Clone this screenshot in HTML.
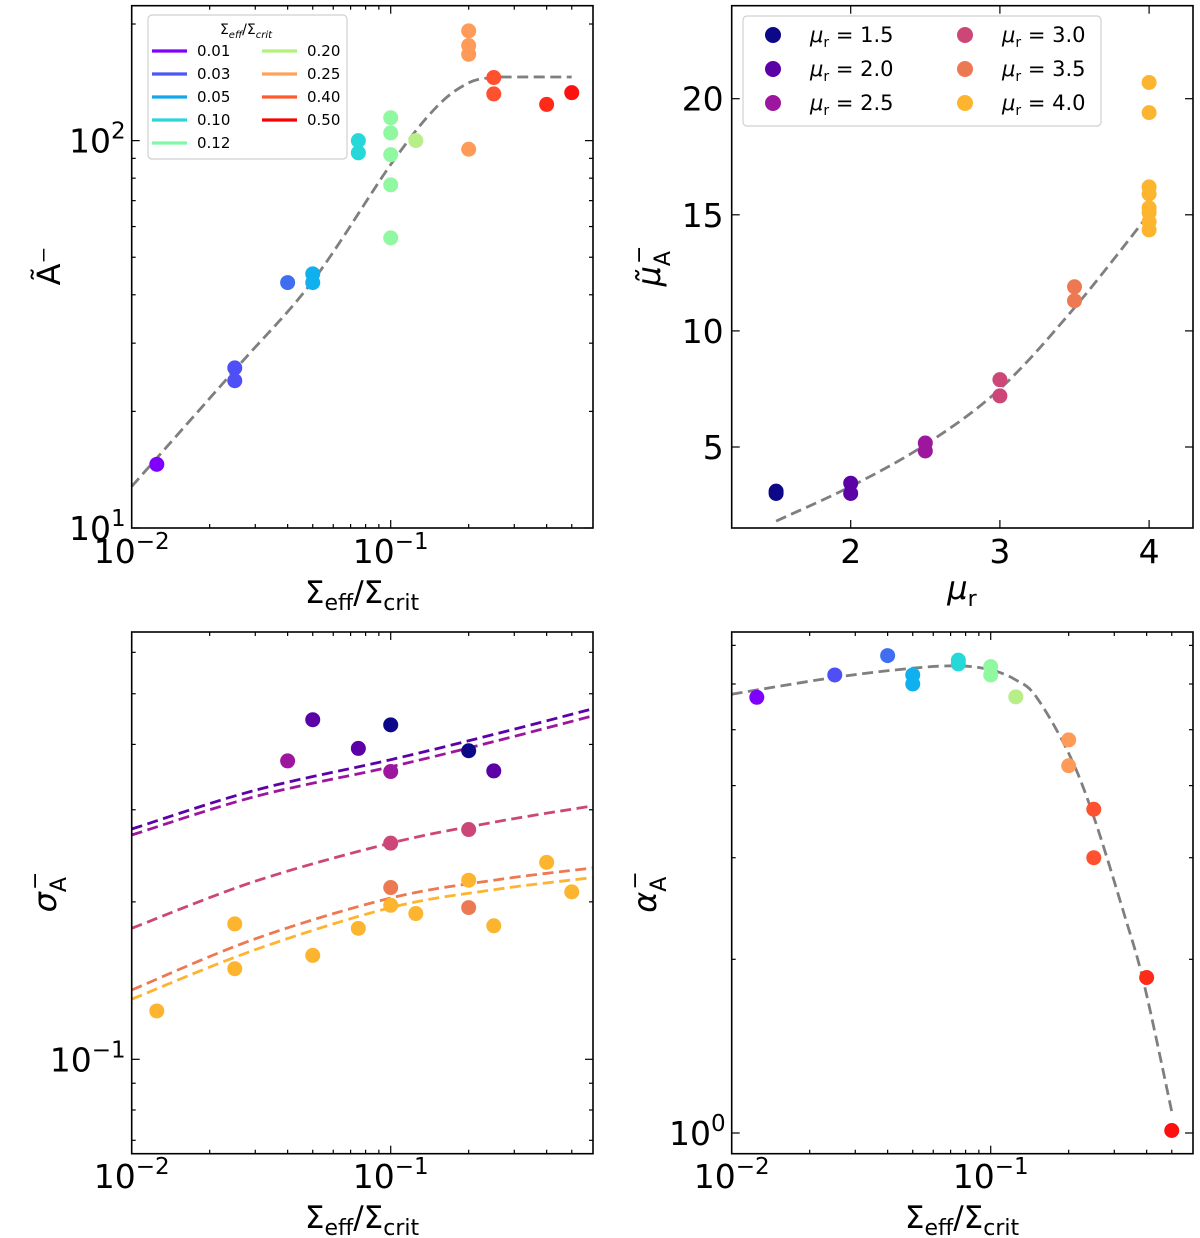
<!DOCTYPE html>
<html><head><meta charset="utf-8">
<style>
html,body{margin:0;padding:0;background:#fff;}
svg{display:block;font-family:"DejaVu Sans","Liberation Sans",sans-serif;}
</style></head>
<body>
<svg id="fig" width="1200" height="1238" viewBox="0 0 1200 1238" xmlns="http://www.w3.org/2000/svg"></svg>
<script>
// ---------- Panel A (top-left): A~ vs Sigma ----------
const aX = [0.0125,0.025,0.025,0.04,0.05,0.05,0.075,0.075,0.1,0.1,0.1,0.1,0.1,0.125,0.2,0.2,0.2,0.2,0.25,0.25,0.4,0.5];
const aY = [14.6,25.9,24.0,43,45.3,43,100,93,114.6,104.7,92,76.9,56.1,100,192,176,167,95,145.5,132,124,133];
const aC = ['#8000ff','#4f4ff8','#4f4ff8','#3f6ff0','#10b0ee','#10b0ee','#26d8d8','#26d8d8','#90f8a0','#90f8a0','#90f8a0','#90f8a0','#90f8a0','#b8ee88','#ff9a58','#ff9a58','#ff9a58','#ff9a58','#ff5030','#ff5030','#ff2a18','#ff1010'];
const aFitX = [0.01,0.025,0.05,0.1,0.15,0.2,0.25,0.3,0.5];
const aFitY = [12.8,25.6,43.4,86.7,122,141,145.5,146,146];
// ---------- Panel B (top-right): mu~ vs mu_r ----------
const bX = [1.5,1.5,2,2,2.5,2.5,3,3,3.5,3.5,4,4,4,4,4,4,4,4];
const bY = [3.1,3.0,3.44,3.0,5.17,4.83,7.9,7.2,11.9,11.3,20.7,19.4,16.2,15.9,15.3,15.1,14.7,14.35];
const bFitX = [1.5,2,2.5,3,3.5,4];
const bFitY = [1.81,3.3,5.1,7.5,11.0,15.04];
const muCats = [1.5,2.0,2.5,3.0,3.5,4.0];
const muCols = ['#0d0887','#5c01a6','#9c179e','#cc4778','#ed7953','#fdb42f'];
// ---------- Panel C (bottom-left): sigma vs Sigma ----------
const cX = [0.0125,0.025,0.025,0.04,0.05,0.05,0.075,0.075,0.1,0.1,0.1,0.1,0.1,0.125,0.2,0.2,0.2,0.2,0.25,0.25,0.4,0.5];
const cY = [0.1237,0.1815,0.149,0.372,0.446,0.158,0.393,0.178,0.436,0.355,0.259,0.213,0.197,0.19,0.389,0.275,0.22,0.195,0.356,0.18,0.238,0.209];
const cMu = [4.0,4.0,4.0,2.5,2.0,4.0,2.0,4.0,1.5,2.5,3.0,3.5,4.0,4.0,1.5,3.0,4.0,3.5,2.0,4.0,4.0,4.0];
const cFitX = [0.01,0.03,0.1,0.25,0.6];
const cFit20 = [0.2756,0.327,0.3739,0.418,0.4677];
const cFit25 = [0.2685,0.318,0.3625,0.405,0.4533];
const cFit30 = [0.178,0.219,0.259,0.284,0.305];
const cFit35 = [0.1357,0.170,0.2034,0.220,0.2322];
const cFit40 = [0.1303,0.162,0.195,0.211,0.2225];
// ---------- Panel D (bottom-right): alpha vs Sigma ----------
const dX = [0.0125,0.025,0.04,0.05,0.05,0.075,0.075,0.1,0.1,0.125,0.2,0.2,0.25,0.25,0.4,0.5];
const dY = [5.69,6.22,6.72,6.22,6.0,6.6,6.5,6.43,6.22,5.70,4.80,4.33,3.64,3.0,1.86,1.01];
const dC = ['#8000ff','#4f4ff8','#3f6ff0','#10b0ee','#10b0ee','#26d8d8','#26d8d8','#90f8a0','#90f8a0','#b8ee88','#ff9a58','#ff9a58','#ff5030','#ff5030','#ff2a18','#ff1010'];
const dFitX = [0.01,0.025,0.05,0.075,0.1,0.125,0.15,0.2,0.25,0.327,0.39,0.5];
const dFitY = [5.76,6.16,6.39,6.45,6.35,6.1,5.70,4.55,3.53,2.40,1.82,1.09];
// legend data
const legVals = ['0.01','0.03','0.05','0.10','0.12','0.20','0.25','0.40','0.50'];
const legCols = ['#8000ff','#4a58f5','#12a8ea','#2cd6d6','#80f8a8','#b2f27a','#ffa25a','#ff5a2e','#ff0000'];

const NS='http://www.w3.org/2000/svg';
const svg=document.getElementById('fig');
function mk(tag,attrs,parent){const e=document.createElementNS(NS,tag);for(const k in attrs)e.setAttribute(k,attrs[k]);(parent||svg).appendChild(e);return e;}

function logScale(v0,v1,p0,p1){const a=Math.log10(v0),b=Math.log10(v1);return v=>p0+(Math.log10(v)-a)/(b-a)*(p1-p0);}
function linScale(v0,v1,p0,p1){return v=>p0+(v-v0)/(v1-v0)*(p1-p0);}

function frame(g,L,T,R,B){
  const r=mk('rect',{x:L,y:T,width:R-L,height:B-T,fill:'none',stroke:'#000','stroke-width':1.6},g);
  
  
}
function xTicks(g,sx,vals,T,B,len){vals.forEach(v=>{const x=sx(v);
  const t1=mk('line',{x1:x,y1:B,x2:x,y2:B-len,stroke:'#000','stroke-width':1.2},g);
  
  
  const t2=mk('line',{x1:x,y1:T,x2:x,y2:T+len,stroke:'#000','stroke-width':1.2},g);
  
  });}
function yTicks(g,sy,vals,L,R,len){vals.forEach(v=>{const y=sy(v);
  const t1=mk('line',{x1:L,y1:y,x2:L+len,y2:y,stroke:'#000','stroke-width':1.2},g);
  
  
  const t2=mk('line',{x1:R,y1:y,x2:R-len,y2:y,stroke:'#000','stroke-width':1.2},g);
  
  });}
function pow10Label(g,x,y,exp,anchor,name){
  const t=mk('text',{x:x,y:y,'font-size':33,'text-anchor':anchor},g);
  
  
  t.appendChild(document.createTextNode('10'));
  const s=mk('tspan',{dy:-14,'font-size':23},t);s.textContent=exp;
  return t;
}
function textAt(g,x,y,str,size,anchor,name){
  const t=mk('text',{x:x,y:y,'font-size':size,'text-anchor':anchor||'middle'},g);
  
  
  t.textContent=str;return t;
}
function dots(g,sx,sy,xs,ys,cols,name){xs.forEach((v,i)=>{
  const c=mk('circle',{cx:sx(v),cy:sy(ys[i]),r:7.5,fill:cols[i]},g);
  
  });}
function dashed(g,sx,sy,xs,ys,col,name){
  const P=xs.map((v,i)=>[sx(v),sy(ys[i])]);
  let d='M'+P[0][0].toFixed(1)+','+P[0][1].toFixed(1);
  for(let i=0;i<P.length-1;i++){
    const p0=P[Math.max(i-1,0)],p1=P[i],p2=P[i+1],p3=P[Math.min(i+2,P.length-1)];
    const c1=[p1[0]+(p2[0]-p0[0])/6,p1[1]+(p2[1]-p0[1])/6];
    const c2=[p2[0]-(p3[0]-p1[0])/6,p2[1]-(p3[1]-p1[1])/6];
    d+='C'+c1.map(n=>n.toFixed(1)).join(',')+' '+c2.map(n=>n.toFixed(1)).join(',')+' '+p2.map(n=>n.toFixed(1)).join(',');
  }
  const p=mk('path',{d:d,fill:'none',stroke:col,'stroke-width':2.8,'stroke-dasharray':'11,5.5'},g);
  
  
}
function sigmaLabel(g,x,y,name){
  const t=mk('text',{x:x,y:y,'font-size':31,'text-anchor':'middle'},g);
  
  
  t.appendChild(document.createTextNode('Σ'));
  let s=mk('tspan',{dy:7,'font-size':22},t);s.textContent='eff';
  s=mk('tspan',{dy:-7},t);s.textContent='/Σ';
  s=mk('tspan',{dy:7,'font-size':22},t);s.textContent='crit';
}
const minorLog=(d0,d1,maxv)=>{const a=[];for(let e=d0;e<d1;e++)for(let m=2;m<=9;m++){const v=m*Math.pow(10,e);if(v<=maxv)a.push(v);}return a;};

// ===== Panel A =====
{
const g=mk('g',{});
const L=131.7,R=593,T=5.7,B=528;
const sx=logScale(0.01,0.604,L,R), sy=logScale(10,223,B,T);
dashed(g,sx,sy,aFitX,aFitY,'#7f7f7f','fit-curve');
dots(g,sx,sy,aX,aY,aC,'data-point');
frame(g,L,T,R,B);
xTicks(g,sx,[0.01,0.1],T,B,8);xTicks(g,sx,minorLog(-2,0,0.6),T,B,4);
yTicks(g,sy,[10,100],L,R,8);yTicks(g,sy,minorLog(1,3,223),L,R,4);
pow10Label(g,sx(0.01),563,'−2','middle','x-tick-label');
pow10Label(g,sx(0.1),563,'−1','middle','x-tick-label');
pow10Label(g,L-6,sy(100)+12,'2','end','y-tick-label');
pow10Label(g,L-6,sy(10)+12,'1','end','y-tick-label');
sigmaLabel(g,362,603,'x-axis-title');
const yl=textAt(g,0,0,'Ã⁻',32,'middle','y-axis-title');yl.setAttribute('transform','translate(60,266) rotate(-90)');
// legend
const lg=mk('g',{},g);
mk('rect',{x:148,y:15,width:199,height:144,rx:4,fill:'#fff',stroke:'#d0d0d0','stroke-width':1.2},lg);
const tt=mk('text',{x:246,y:34,'font-size':14,'text-anchor':'middle'},lg);

tt.appendChild(document.createTextNode('Σ'));let s=mk('tspan',{dy:4,'font-size':10,'font-style':'italic'},tt);s.textContent='eff';
s=mk('tspan',{dy:-4},tt);s.textContent='/Σ';s=mk('tspan',{dy:4,'font-size':10,'font-style':'italic'},tt);s.textContent='crit';
legVals.forEach((v,i)=>{const col=i<5?0:1,row=i<5?i:i-5;const x0=col?262:152,y0=51+row*23;
  const e=mk('g',{},lg);
  mk('line',{x1:x0,y1:y0,x2:x0+35,y2:y0,stroke:legCols[i],'stroke-width':3.2},e);
  const t=mk('text',{x:x0+45,y:y0+5,'font-size':15},e);t.textContent=v;});
}
// ===== Panel B =====
{
const g=mk('g',{});
const L=731.7,R=1193,T=5.7,B=528;
const sx=linScale(2,3,850.7,999.9), sy=linScale(5,20,447,98.7);
dashed(g,sx,sy,bFitX,bFitY,'#7f7f7f','fit-curve');
const bC=bX.map(v=>muCols[muCats.indexOf(v)]);
dots(g,sx,sy,bX,bY,bC,'data-point');
frame(g,L,T,R,B);
xTicks(g,sx,[2,3,4],T,B,8);yTicks(g,sy,[5,10,15,20],L,R,8);
[2,3,4].forEach(v=>textAt(g,sx(v),563,String(v),33,'middle','x-tick-label'));
[5,10,15,20].forEach(v=>textAt(g,L-8,sy(v)+12,String(v),33,'end','y-tick-label'));
const xl=mk('text',{x:962,y:599,'font-size':32,'text-anchor':'middle'},g);

let t=mk('tspan',{'font-style':'italic'},xl);t.textContent='μ';t=mk('tspan',{dy:7,'font-size':22},xl);t.textContent='r';
const yl=mk('text',{x:0,y:0,'font-size':32,'text-anchor':'middle',transform:'translate(660,266) rotate(-90)'},g);

t=mk('tspan',{'font-style':'italic'},yl);t.textContent='μ̃';t=mk('tspan',{dy:10,'font-size':22},yl);t.textContent='A';
t=mk('tspan',{dy:-24,'font-size':22,dx:-13},yl);t.textContent='−';
const lg=mk('g',{},g);
mk('rect',{x:743,y:16,width:358,height:110,rx:4,fill:'#fff',stroke:'#d0d0d0','stroke-width':1.2},lg);
muCats.forEach((v,i)=>{const col=i<3?0:1,row=i%3;const cx=col?965:773,cy=35+row*34;
  const e=mk('g',{},lg);
  mk('circle',{cx:cx,cy:cy,r:8,fill:muCols[i]},e);
  const tx=mk('text',{x:cx+37,y:cy+7,'font-size':21},e);
  let s=mk('tspan',{'font-style':'italic'},tx);s.textContent='μ';s=mk('tspan',{dy:5,'font-size':14},tx);s.textContent='r';
  s=mk('tspan',{dy:-5},tx);s.textContent=' = '+v.toFixed(1);});
}
// ===== Panel C =====
{
const g=mk('g',{});
const L=131.7,R=593,T=632,B=1153.7;
const sx=logScale(0.01,0.604,L,R), sy=v=>1059.3-(Math.log10(v)+1)*523;
const fits=[cFit20,cFit25,cFit30,cFit35,cFit40];
fits.forEach((f,i)=>dashed(g,sx,sy,cFitX,f,muCols[i+1],'fit-curve'));
const cC=cMu.map(v=>muCols[muCats.indexOf(v)]);
dots(g,sx,sy,cX,cY,cC,'data-point');
frame(g,L,T,R,B);
xTicks(g,sx,[0.01,0.1],T,B,8);xTicks(g,sx,minorLog(-2,0,0.6),T,B,4);
yTicks(g,sy,[0.1],L,R,8);yTicks(g,sy,[0.07,0.08,0.09,0.2,0.3,0.4,0.5,0.6],L,R,4);
pow10Label(g,sx(0.01),1188,'−2','middle','x-tick-label');
pow10Label(g,sx(0.1),1188,'−1','middle','x-tick-label');
pow10Label(g,L-6,sy(0.1)+12,'−1','end','y-tick-label');
sigmaLabel(g,362,1228,'x-axis-title');
const yl=mk('text',{x:0,y:0,'font-size':32,'text-anchor':'middle',transform:'translate(56,892) rotate(-90)'},g);

let t=mk('tspan',{'font-style':'italic'},yl);t.textContent='σ';t=mk('tspan',{dy:10,'font-size':22},yl);t.textContent='A';
t=mk('tspan',{dy:-24,'font-size':22,dx:-13},yl);t.textContent='−';
}
// ===== Panel D =====
{
const g=mk('g',{});
const L=731.7,R=1193,T=632,B=1153.7;
const sx=logScale(0.01,0.604,L,R), sy=v=>1133-Math.log10(v)*577;
dashed(g,sx,sy,dFitX,dFitY,'#7f7f7f','fit-curve');
dots(g,sx,sy,dX,dY,dC,'data-point');
frame(g,L,T,R,B);
xTicks(g,sx,[0.01,0.1],T,B,8);xTicks(g,sx,minorLog(-2,0,0.6),T,B,4);
yTicks(g,sy,[1],L,R,8);yTicks(g,sy,[2,3,4,5,6,7],L,R,4);
pow10Label(g,sx(0.01),1188,'−2','middle','x-tick-label');
pow10Label(g,sx(0.1),1188,'−1','middle','x-tick-label');
pow10Label(g,L-6,sy(1)+12,'0','end','y-tick-label');
sigmaLabel(g,962,1228,'x-axis-title');
const yl=mk('text',{x:0,y:0,'font-size':32,'text-anchor':'middle',transform:'translate(656,892) rotate(-90)'},g);

let t=mk('tspan',{'font-style':'italic'},yl);t.textContent='α';t=mk('tspan',{dy:10,'font-size':22},yl);t.textContent='A';
t=mk('tspan',{dy:-24,'font-size':22,dx:-13},yl);t.textContent='−';
}
</script>
</body></html>
